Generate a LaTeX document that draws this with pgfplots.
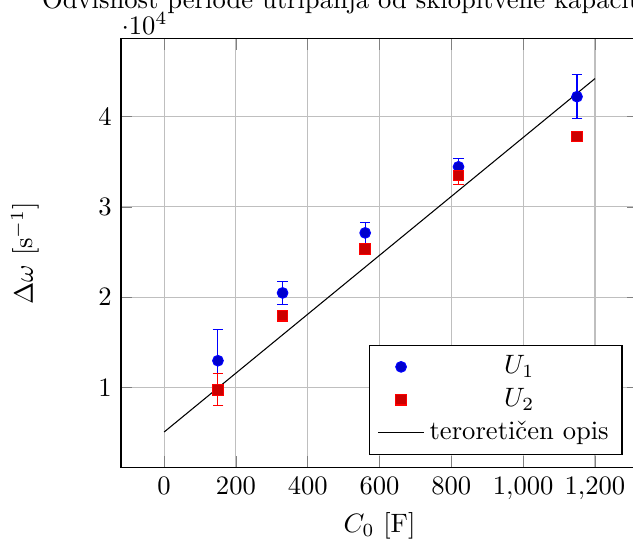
\documentclass[border=0pt]{standalone}
\usepackage{fontspec}
\usepackage{pgfplots}
\pgfplotsset{compat=1.18}

\begin{document}
\begin{tikzpicture}
\begin{axis}[
    scale only axis,
    width=194.4pt,
    height=161.3pt,
    xmin=-120, xmax=1320,
    ymin=1140, ymax=48600,
    grid=major,
    title={Odvisnost periode utripanja od sklopitvene kapacitivnosti},
    every axis title shift=0pt,
    title style={at={(0.5,1)}, anchor=base, yshift=11.3pt},
    every y tick scale label/.style={at={(rel axis cs:0,1)}, anchor=base west,
        inner sep=0pt, yshift=1.6pt},
    xlabel={$C_0$ [F]},
    xlabel style={at={(axis description cs:0.5,0)}, anchor=base, yshift=-24.4pt},
    ylabel={$\Delta\omega$ [s$^{-1}$]},
    ylabel style={at={(axis description cs:-0.185,0.5)}, anchor=center},
    legend pos=south east,
]
\coordinate (sw) at (rel axis cs:0,0);
\addplot+[only marks, error bars/.cd, y dir=both, y explicit] coordinates {
    (150,12990)  +- (0,3430)
    (330,20490)  +- (0,1290)
    (560,27130)  +- (0,1200)
    (820,34440)  +- (0,900)
    (1150,42200) +- (0,2450)
};
\addplot+[only marks, error bars/.cd, y dir=both, y explicit] coordinates {
    (150,9780)   +- (0,1790)
    (330,17970)  +- (0,300)
    (560,25360)  +- (0,300)
    (820,33480)  +- (0,1000)
    (1150,37800) +- (0,300)
};
\addplot[black, no marks] coordinates {
    (0,5100)
    (1200,44200)
};
\legend{$U_1$, $U_2$, teroretičen opis}
\end{axis}
\pgfresetboundingbox
\path ([shift={(-45.5pt,-27.8pt)}]sw) rectangle ([shift={(192.5pt,175.9pt)}]sw);
\end{tikzpicture}
\end{document}
